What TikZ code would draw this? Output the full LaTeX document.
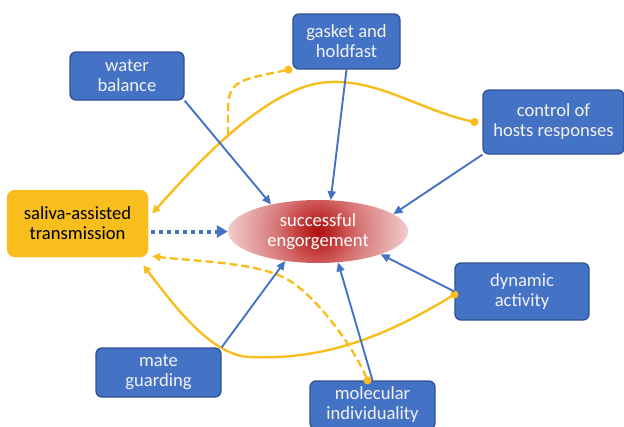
\documentclass[tikz,border=0pt]{standalone}
\usepackage{fontspec}
\setmainfont{Carlito}
\usetikzlibrary{arrows.meta,shapes.geometric}
\definecolor{boxblue}{RGB}{68,114,196}
\definecolor{edgeblue}{RGB}{47,82,143}
\definecolor{gold}{RGB}{248,190,30}
\definecolor{deepred}{RGB}{175,15,15}
\definecolor{warmred}{RGB}{195,55,55}
\definecolor{midred}{RGB}{214,115,115}
\definecolor{palered}{RGB}{242,208,208}
\pgfdeclareradialshading{blush}{\pgfpoint{0bp}{0bp}}{color(0bp)=(deepred); color(5bp)=(warmred); color(11bp)=(midred); color(25bp)=(palered); color(50bp)=(palered)}

\begin{document}
\begin{tikzpicture}[x=1pt,y=-1pt]
\tikzstyle{every node}+=[font=\fontsize{18.6}{20}\selectfont, align=center, inner sep=0pt]
\tikzstyle{factor}=[draw=edgeblue, line width=1.3pt, fill=boxblue, text=white!95!black, rounded corners=6pt]
\tikzstyle{push}=[draw=boxblue, line width=1.9pt, -{Triangle[length=9pt,width=8pt]}]
\tikzstyle{link}=[draw=gold, line width=2.4pt, {Circle[length=8pt]}-{Triangle[length=8pt,width=8pt]}, shorten <=-4pt]
\tikzstyle{loose}=[draw=gold, line width=2.4pt, {Circle[length=8pt]}-, shorten <=-4pt]
\useasboundingbox (0,0) rectangle (624,426);
% factors
\node[factor, minimum width=114, minimum height=48] (wb) at (127,76) {water\\balance};
\node[factor, minimum width=107, minimum height=55] (gh) at (346.5,41.5) {gasket and\\holdfast};
\node[factor, minimum width=141, minimum height=64] (ctrl) at (553.5,122) {control of\\hosts responses};
\node[factor, minimum width=134, minimum height=57] (dyn) at (522,291.5) {dynamic\\activity};
\node[factor, minimum width=125, minimum height=49] (mate) at (158.5,372.5) {mate\\guarding};
\node[factor, minimum width=125, minimum height=48] (mol) at (372.5,405) {molecular\\individuality};
\node[draw=gold, fill=gold, rounded corners=8pt, minimum width=141, minimum height=67] (sal) at (77.5,223.5) {saliva-assisted\\transmission};
% outcome
\node[ellipse, text=white, minimum width=180, minimum height=63,
  path picture={\shade[shading=blush] (path picture bounding box.center) circle (92pt);}] (succ) at (318,231.5) {successful\\engorgement};
\coordinate (gmeet) at (228,134);
% yellow links
\draw[link] ([xshift=-8pt]ctrl.west) .. controls (420,110) and (380,80) .. (330,82) .. controls (270,84) and (200,160) .. ([shift={(4pt,10pt)}]sal.east);
\draw[loose, dash pattern=on 8pt off 4pt] ([xshift=-4pt]gh.south west) .. controls (240,80) and (228,80) .. (228,110) -- (gmeet);
\draw[link] ([yshift=-3pt]dyn.west) .. controls (380,340) and (320,360) .. (250,357) .. controls (210,356) and (170,300) .. ([shift={(-5pt,-8pt)}]sal.south east);
\draw[link, dash pattern=on 8pt off 4pt] ([xshift=-5pt]mol.north) .. controls (355,350) and (320,300) .. (290,281) .. controls (260,262) and (200,262) .. ([shift={(4pt,1pt)}]sal.south east);
% blue arrows
\draw[push] (wb.south east) -- (succ.150);
\draw[push] (gh.south) -- (succ.68);
\draw[push] (ctrl.south west) -- (succ.13);
\draw[push] (dyn.west) -- (succ.-20);
\draw[push] (mol.north) -- (succ.-57);
\draw[push] (mate.north east) -- (succ.222);
\draw[draw=boxblue, line width=4pt, dash pattern=on 4pt off 4pt, -{Triangle[length=11pt,width=12pt]}] ([xshift=3pt]sal.east |- succ.west) -- (succ.west);
\end{tikzpicture}
\end{document}
